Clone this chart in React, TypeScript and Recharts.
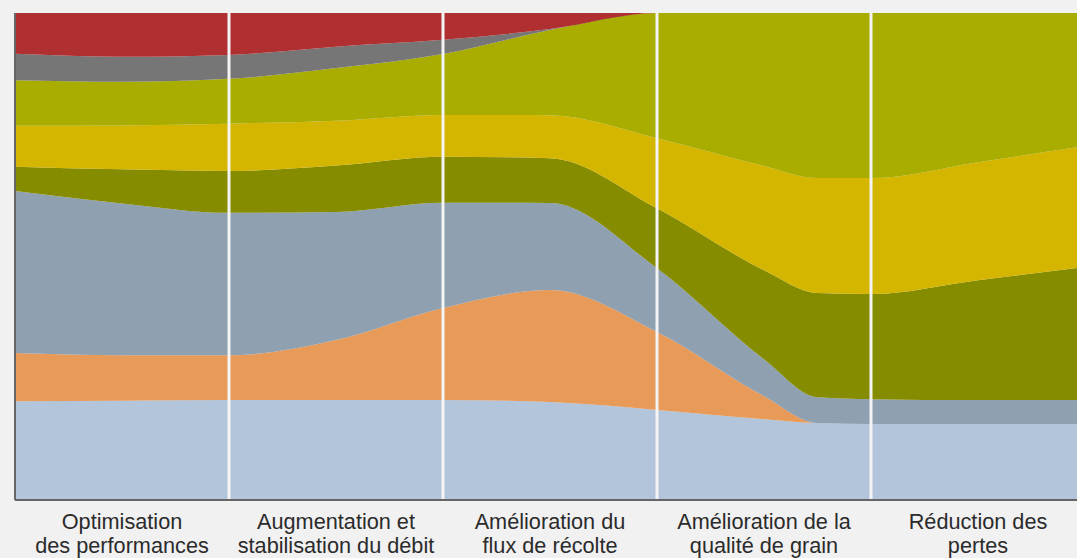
import * as React from "react"
import { Area, AreaChart, ReferenceLine, XAxis, YAxis } from "recharts"

// five stages of the harvest chain, label lines split on "\n"
const categories = [
  "Optimisation\ndes performances",
  "Augmentation et\nstabilisation du débit",
  "Amélioration du\nflux de récolte",
  "Amélioration de la\nqualité de grain",
  "Réduction des\npertes",
]

// sampled at band edges and band centres (in stage units), plus one extra in stage 4
const steps = [0, 0.5, 1, 1.5, 2, 2.5, 3, 3.5, 3.75, 4, 4.5, 5]
const boundaries = [1, 2, 3, 4]
const labelTicks = [0.5, 1.5, 2.5, 3.5, 4.5]

// shares in %, bottom layer first
const lightBlue = [20.3, 20.4, 20.5, 20.5, 20.5, 20.1, 18.5, 16.6, 15.8, 15.6, 15.6, 15.6]
const orange = [9.9, 9.3, 9.2, 12.3, 18.9, 23.0, 16.0, 4.7, 0, 0, 0, 0]
const blueGrey = [33.3, 31.2, 29.2, 26.3, 21.6, 17.9, 13.1, 7.6, 5.3, 5.1, 4.9, 4.9]
const darkOlive = [5.0, 7.0, 8.6, 9.5, 9.4, 9.2, 12.3, 18.3, 21.4, 21.6, 24.6, 27.3]
const yellow = [8.4, 9.0, 9.7, 9.2, 8.6, 8.8, 14.4, 21.4, 23.6, 23.8, 24.2, 24.8]
const lime = [9.4, 9.0, 9.2, 10.8, 12.5, 17.5, 25.7, 31.4, 33.9, 33.9, 30.6, 27.3]
const grey = [5.4, 5.1, 4.9, 4.4, 2.9, 0.2, 0, 0, 0, 0, 0, 0]
const red = [8.4, 9.0, 8.6, 6.9, 5.5, 3.3, 0, 0, 0, 0, 0, 0]

const series = [
  { key: "lightBlue", values: lightBlue, color: "#b2c5da" },
  { key: "orange", values: orange, color: "#e89a58" },
  { key: "blueGrey", values: blueGrey, color: "#8fa0b0" },
  { key: "darkOlive", values: darkOlive, color: "#868c00" },
  { key: "yellow", values: yellow, color: "#d4b500" },
  { key: "lime", values: lime, color: "#a8ad00" },
  { key: "grey", values: grey, color: "#767676" },
  { key: "red", values: red, color: "#b03032" },
]

const data = steps.map((step, i) => {
  const row: Record<string, number> = { step }
  series.forEach((s) => {
    row[s.key] = s.values[i]
  })
  return row
})

function StageTick(props: any) {
  const { x, y, payload } = props
  const idx = Math.floor(payload.value)
  const lines = (categories[idx] || "").split("\n")
  return (
    <text
      x={x}
      y={y}
      textAnchor="middle"
      fill="#2b2b2b"
      fontSize={21.7}
      fontFamily="'Liberation Sans', Arial, sans-serif"
    >
      {lines.map((line, i) => (
        <tspan key={i} x={x} y={y + 21 + i * 24}>
          {line}
        </tspan>
      ))}
    </text>
  )
}

export default function App() {
  return (
    <div
      style={{
        position: "fixed",
        left: 0,
        top: 0,
        width: 1077,
        height: 558,
        overflow: "hidden",
        background: "#f1f1f1",
      }}
    >
      <AreaChart
        width={1090}
        height={558}
        data={data}
        stackOffset="expand"
        margin={{ top: 13, right: 5, bottom: 0, left: 15 }}
      >
        <XAxis
          dataKey="step"
          type="number"
          domain={[0, 5]}
          ticks={labelTicks}
          tick={<StageTick />}
          tickLine={false}
          axisLine={{ stroke: "#666666", strokeWidth: 2 }}
          height={58}
          interval={0}
        />
        <YAxis hide domain={[0, 1]} />
        {series.map((s) => (
          <Area
            key={s.key}
            dataKey={s.key}
            stackId="stages"
            type="monotone"
            stroke="none"
            fill={s.color}
            fillOpacity={1}
            isAnimationActive={false}
          />
        ))}
        {boundaries.map((b) => (
          <ReferenceLine key={b} x={b} stroke="#f4f4f4" strokeWidth={3} />
        ))}
        <ReferenceLine x={0} stroke="#666666" strokeWidth={2} />
      </AreaChart>
    </div>
  )
}
